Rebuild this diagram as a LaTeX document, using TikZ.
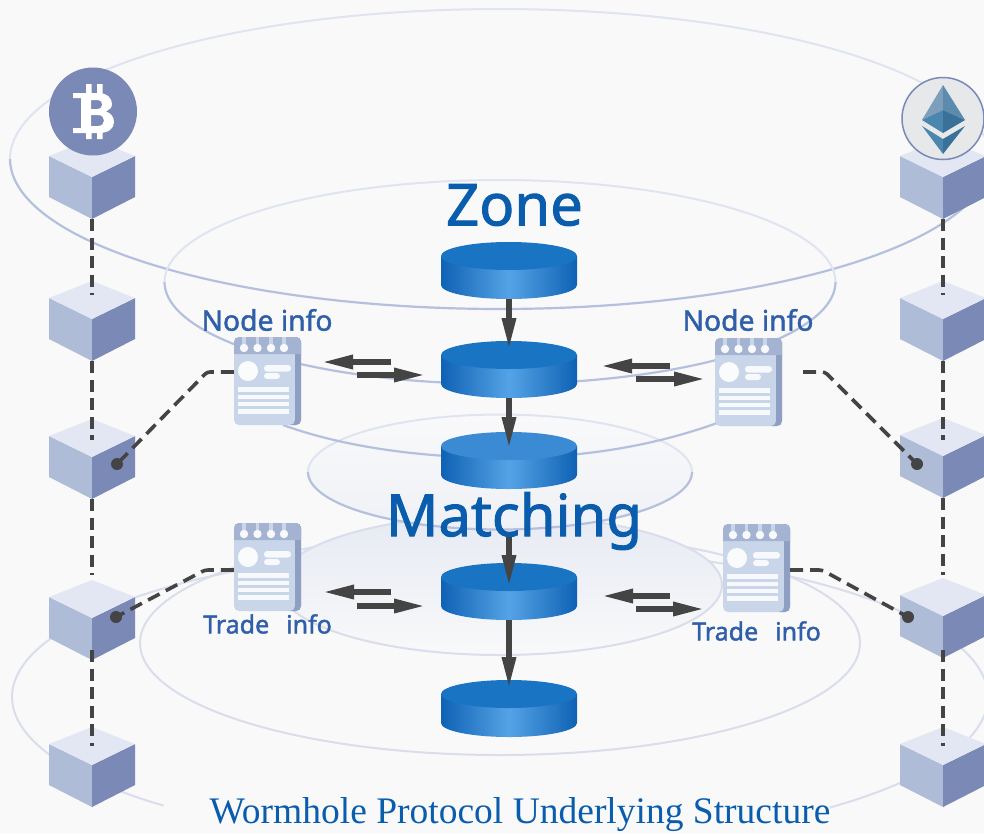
\documentclass[tikz,border=0pt]{standalone}
\usepackage{fontspec}
\setmainfont{Noto Sans}
\newfontfamily\capfont{Liberation Serif}
\newfontfamily\boldishfont[FakeBold=1.6]{Noto Sans}
\usetikzlibrary{arrows.meta,calc,shapes.geometric}
\definecolor{bgc}{HTML}{F9F9FA}
\definecolor{ringdark}{HTML}{B4C0DE}
\definecolor{ringlight}{HTML}{DFE4F0}
\definecolor{ringfaint}{HTML}{DADDEB}
\definecolor{cubetop}{HTML}{E3E7F3}
\definecolor{cubeleft}{HTML}{AEBCD7}
\definecolor{cuberight}{HTML}{7A89B6}
\definecolor{dashc}{HTML}{444444}
\definecolor{cardc}{HTML}{C9D5E9}
\definecolor{cardband}{HTML}{A4B3D2}
\definecolor{cardedge}{HTML}{8F9FC4}
\definecolor{titlec}{HTML}{0A5CAC}
\definecolor{infoc}{HTML}{2F5FA8}
\definecolor{cylside}{HTML}{0F62B4}
\definecolor{cylmid}{HTML}{55A3E6}
\definecolor{lenstop}{HTML}{E6EAF3}
\definecolor{discbot}{HTML}{EEF1F6}
\definecolor{ethbg}{HTML}{E6E8EA}
\definecolor{etha}{HTML}{7E9FBB}
\definecolor{ethb}{HTML}{5D8BAD}
\definecolor{ethc}{HTML}{4A86AD}
\definecolor{ethd}{HTML}{3A7199}
\definecolor{cyltop}{HTML}{1A74C4}
\definecolor{cyltopb}{HTML}{3A8AD4}
\tikzset{
  ring/.style={line width=2.2pt,draw=ringdark},
  ringl/.style={line width=2pt,draw=ringlight},
  ringf/.style={line width=2pt,draw=ringfaint},
  links/.style={draw=dashc,line width=3.1pt,dash pattern=on 12pt off 6.5pt},
  linkd/.style={draw=dashc,line width=3.6pt,dash pattern=on 13pt off 7pt,rounded corners=3pt},
  flow/.style={draw=dashc,line width=6pt,-{Triangle[length=32pt,width=13pt]}},
  title/.style={inner sep=0pt,text=titlec,font=\boldishfont\fontsize{58}{62}\selectfont},
  info/.style={inner sep=0pt,text=infoc,font=\boldishfont\fontsize{28.3}{30}\selectfont},
  tradeinfo/.style={inner sep=0pt,text=infoc,font=\boldishfont\fontsize{25}{28}\selectfont},
  cardbody/.style={fill=cardc,rounded corners=5pt,minimum width=67pt,minimum height=88pt,inner sep=0pt,draw=none},
  dotend/.style={circle,fill=dashc,inner sep=0pt,minimum size=12pt}
}
\newcommand{\mycube}[3]{% name, center x, tip y
  \coordinate (#1-tip) at (#2,#3);
  \coordinate (#1-bot) at (#2,#3+80);
  \fill[cubeleft] (#2-43,#3+17)--(#2,#3+38)--(#2,#3+80)--(#2-43,#3+58)--cycle;
  \fill[cuberight] (#2+43,#3+17)--(#2,#3+38)--(#2,#3+80)--(#2+43,#3+58)--cycle;
  \fill[cubetop] (#2,#3)--(#2+43,#3+17)--(#2,#3+38)--(#2-43,#3+17)--cycle;
}
\newcommand{\mycyl}[3]{% name, center y of top face, top colour
  \coordinate (#1-bot) at (509,#2+43);
  \path[left color=cylside,right color=cylside,middle color=cylmid]
    (441,#2) -- (441,#2+29) arc[start angle=180,end angle=360,x radius=68pt,y radius=14pt] -- (577,#2) -- cycle;
  \fill[#3] (509,#2) ellipse[x radius=68pt,y radius=14pt];
}
\newcommand{\mycard}[3]{% name, left, top
  \node[cardbody] (#1) at (#2+33.5,#3+44) {};
  \begin{scope}[shift={(#2,#3)}]
    \fill[cardedge] (60,0) -- (62,0) .. controls (65,0) and (67,2) .. (67,5) -- (67,83) .. controls (67,86) and (65,88) .. (62,88) -- (56,88) .. controls (59,88) and (61,86) .. (61,83) -- (61,17) -- (60,17) -- cycle;
    \fill[cardband] (0,17) -- (0,5) .. controls (0,2) and (2,0) .. (5,0) -- (62,0) .. controls (65,0) and (67,2) .. (67,5) -- (67,17) -- cycle;
    \foreach \cx in {10,23.5,37,50}{
      \fill[cardc] (\cx-1.8,0) rectangle (\cx+1.8,9);
      \fill[white!85!cardc] (\cx,11) circle[radius=4.2pt];
    }
    \fill[white!90!cardc] (14,34) circle[radius=10pt];
    \fill[white!85!cardc,rounded corners=3pt] (30,28) rectangle (57,34.5);
    \fill[white!85!cardc,rounded corners=3pt] (30,36) rectangle (46,42);
    \foreach \ly in {50,57.5,64.5,72}{
      \fill[white!85!cardc] (4,\ly) rectangle (55,\ly+4.5);
    }
  \end{scope}
}
\begin{document}
\begin{tikzpicture}[x=1pt,y=-1pt]
\useasboundingbox (0,0) rectangle (984,833);
\fill[bgc] (0,0) rectangle (984,833);

% rings
\draw[ringf,line join=round] plot[domain=133.6:407.5,samples=140] ({500+488*cos(\x)},{697+150*sin(\x)});
\draw[ringf] (500,643) ellipse[x radius=360pt,y radius=112pt];
\draw[ringl] plot[domain=180:360,samples=100] ({500+490*cos(\x)},{159+150*sin(\x)});
\draw[ring] plot[domain=0:180,samples=100] ({500+490*cos(\x)},{159+150*sin(\x)});
\draw[ringl] plot[domain=180:360,samples=100] ({500+335.5*cos(\x)},{282+102*sin(\x)});
\draw[ring] plot[domain=0:180,samples=100] ({500+335.5*cos(\x)},{282+102*sin(\x)});

% lens behind Matching
\shade[top color=lenstop,bottom color=bgc] (500,585) ellipse[x radius=222pt,y radius=70pt];
\draw[line width=2pt,draw=ringfaint] (500,585) ellipse[x radius=222pt,y radius=70pt];

% Matching disc
\shade[top color=bgc,bottom color=discbot] (500,472) ellipse[x radius=192pt,y radius=57.5pt];
\draw[ringl] plot[domain=180:360,samples=80] ({500+192*cos(\x)},{472+57.5*sin(\x)});
\draw[ring] plot[domain=0:180,samples=80] ({500+192*cos(\x)},{472+57.5*sin(\x)});

% lower Zone arc
\coordinate (arcl) at (283,425);
\coordinate (arcm) at (500,458);
\coordinate (arcr) at (717,423);
\draw[ring] (arcl) .. controls (330,442) and (400,457) .. (arcm) .. controls (600,458) and (670,440) .. (arcr);

% cubes
\mycube{La}{92}{139}
\mycube{Lb}{92}{281}
\mycube{Lc}{92}{419}
\mycube{Ld}{92}{580}
\mycube{Le}{92}{727}
\mycube{Ra}{943}{139}
\mycube{Rb}{943}{281}
\mycube{Rc}{943}{418}
\mycube{Rd}{943}{578}
\mycube{Re}{943}{727}

% bitcoin
\fill[cuberight] (93,111.5) circle[radius=44pt];
\fill[white] (86,84) rectangle (91.5,95) (97,84) rectangle (102.5,95) (86,131) rectangle (91.5,139) (97,131) rectangle (102.5,139);
\fill[white,even odd rule]
  (73,93) -- (98,93) .. controls (108,93) and (112,99) .. (112,104) .. controls (112,108) and (109,110) .. (106,111.5)
  .. controls (111,113) and (114,117) .. (114,122) .. controls (114,129) and (108,133) .. (99,133) -- (73,133) -- (73,128) -- (81,128) -- (81,98) -- (73,98) -- cycle
  (91,100) -- (97,100) .. controls (104,100) and (104,109) .. (97,109) -- (91,109) -- cycle
  (91,115) -- (98,115) .. controls (106,115) and (106,126) .. (98,126) -- (91,126) -- cycle;

% ethereum
\draw[fill=ethbg,draw=cuberight,line width=1.5pt] (943,118.5) circle[radius=41pt];
\fill[etha] (943,85) -- (922,120) -- (943,110) -- cycle;
\fill[ethb] (943,85) -- (965,120) -- (943,110) -- cycle;
\fill[ethc] (943,110) -- (922,120) -- (943,133) -- cycle;
\fill[ethd] (943,110) -- (965,120) -- (943,133) -- cycle;
\fill[ethc] (922,126) -- (943,139) -- (943,154) -- cycle;
\fill[ethd] (965,126) -- (943,139) -- (943,154) -- cycle;

% chain links
\coordinate (Lbin) at (92,295);
\coordinate (Lcin) at (92,440);
\coordinate (Ldin) at (92,575);
\coordinate (Lein) at (92,746);
\coordinate (Rbin) at (943,295);
\coordinate (Rcin) at (943,440);
\coordinate (Rdin) at (943,575);
\coordinate (Rein) at (943,746);
\coordinate (Ldout) at (92,650);
\coordinate (Rdout) at (943,650);
\draw[links] (La-bot) -- (Lbin);
\draw[links] (Lb-bot) -- (Lcin);
\draw[links] (Lc-bot) -- (Ldin);
\draw[links] (Ldout) -- (Lein);
\draw[links] (Ra-bot) -- (Rbin);
\draw[links] (Rb-bot) -- (Rcin);
\draw[links] (Rc-bot) -- (Rdin);
\draw[links] (Rdout) -- (Rein);

% cylinders
\mycyl{ca}{256}{cyltop}
\mycyl{cb}{355}{cyltop}
\mycyl{cc}{446}{cyltopb}
\mycyl{cd}{577}{cyltop}
\mycyl{ce}{694}{cyltop}

% cards
\mycard{na}{234}{337}
\mycard{nb}{715}{338}
\mycard{nc}{234}{523}
\mycard{nd}{723}{524}

% card links
\node[dotend] (da) at (117,464) {};
\node[dotend] (db) at (917,464) {};
\node[dotend] (dc) at (116,617) {};
\node[dotend] (dd) at (908,617) {};
\coordinate (ea) at (207,372);
\coordinate (eb) at (825,372);
\coordinate (ec) at (205,570);
\coordinate (ed) at (822,570);
\coordinate (sb) at (803,372);
\draw[linkd] (na.west |- ea) -- (ea) -- (da.center);
\draw[linkd] (sb) -- (eb) -- (db.center);
\draw[linkd] (nc.west |- ec) -- (ec) -- (dc.center);
\draw[linkd] (nd.east |- ed) -- (ed) -- (dd.center);

% vertical flow
\coordinate (mout) at (509,533);
\coordinate (cbtip) at (509,350);
\coordinate (cctip) at (509,449);
\coordinate (cdtip) at (509,587);
\coordinate (cetip) at (509,689);
\draw[flow] (ca-bot) -- (cbtip);
\draw[flow] (cb-bot) -- (cctip);
\draw[flow] (mout) -- (cdtip);
\draw[flow] (cd-bot) -- (cetip);

% horizontal flow
\coordinate (a1) at (391,362); \coordinate (a2) at (321,362);
\coordinate (a3) at (357,375); \coordinate (a4) at (426,375);
\coordinate (b1) at (670,366); \coordinate (b2) at (600,366);
\coordinate (b3) at (636,379); \coordinate (b4) at (706,379);
\coordinate (c1) at (391,592); \coordinate (c2) at (322,592);
\coordinate (c3) at (357,606); \coordinate (c4) at (426,606);
\coordinate (d1) at (670,596); \coordinate (d2) at (601,596);
\coordinate (d3) at (636,609); \coordinate (d4) at (705,609);
\foreach \p/\q in {a1/a2,a3/a4,b1/b2,b3/b4,c1/c2,c3/c4,d1/d2,d3/d4}{
  \draw[flow] (\p) -- (\q);
}

% texts
\node[title] (tzone) at (514.5,205) {Zone};
\node[title] (tmatch) at (514,521) {Matching};
\node[info] (ia) at (267,320) {Node info};
\node[info] (ib) at (748,320) {Node info};
\node[tradeinfo] (ic) at (267.5,624) {Trade\hspace{17pt}info};
\node[tradeinfo] (id) at (756.5,631) {Trade\hspace{17pt}info};
\node[inner sep=0pt,text=titlec,font=\capfont\fontsize{37.5}{40}\selectfont] (cap) at (520,815) {Wormhole Protocol Underlying Structure};
\end{tikzpicture}
\end{document}
